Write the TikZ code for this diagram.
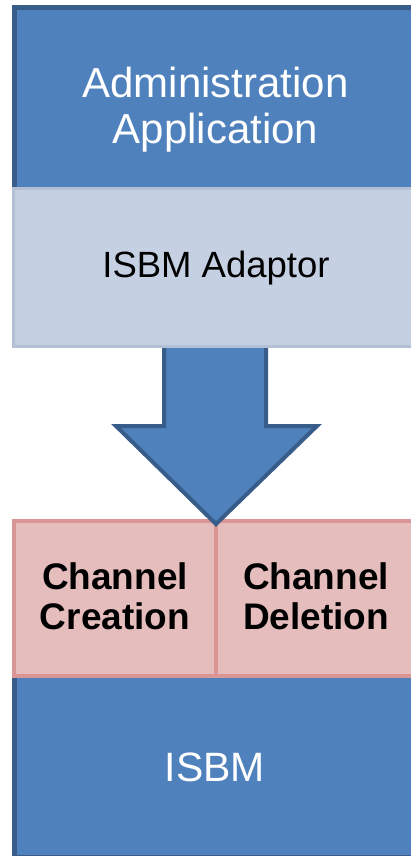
\documentclass[tikz,border=0pt]{standalone}
\usepackage{fontspec}
\setmainfont{Liberation Sans}
\definecolor{layerblue}{HTML}{4F81BD}
\definecolor{layerblueedge}{HTML}{385D8A}
\definecolor{adaptorfill}{HTML}{C5D0E3}
\definecolor{adaptoredge}{HTML}{B2BFD4}
\definecolor{opfill}{HTML}{E6BDBD}
\definecolor{opedge}{HTML}{D99694}
\tikzset{
  bluelayer/.style={fill=layerblue, draw=layerblueedge, line width=5pt},
  adaptorlayer/.style={fill=adaptorfill, draw=adaptoredge, line width=2.5pt},
  oplayer/.style={fill=opfill, draw=opedge, line width=4pt},
  flowarrow/.style={fill=layerblue, draw=layerblueedge, line width=4pt, line join=miter},
  whitelabel/.style={text=white, align=center, inner sep=0pt},
  darklabel/.style={text=black, align=center, inner sep=0pt},
}
\begin{document}
\begin{tikzpicture}[x=1pt, y=-1pt]
  \useasboundingbox (0,0) rectangle (411,856);
  \clip (0,0) rectangle (411,856);

  % application layer (runs off the right edge)
  \path[bluelayer] (14.5,8) rectangle (440,200);
  % ISBM layer at the bottom
  \path[bluelayer] (14.5,670) rectangle (440,857.5);
  % channel operations
  \path[oplayer] (14,521) rectangle (216,675.5);
  \path[oplayer] (216,521) rectangle (440,675.5);
  % downward block arrow from adaptor to operations
  \path[flowarrow] (164,335) -- (164,426) -- (116,426) -- (216,524)
        -- (317,426) -- (266,426) -- (266,335) -- cycle;
  % adaptor layer
  \path[adaptorlayer] (13.25,188.5) rectangle (440,346.5);

  % labels
  \node[whitelabel, font=\fontsize{42}{46}\selectfont] (app) at (215.5,109.5)
    {Administration\\Application};
  \node[darklabel, font=\fontsize{36.5}{40}\selectfont] (adaptor) at (216,268.5)
    {ISBM Adaptor};
  \node[darklabel, font=\fontsize{37}{40}\selectfont\bfseries] (create) at (115,596.5)
    {Channel\\Creation};
  \node[darklabel, font=\fontsize{37}{40}\selectfont\bfseries] (delete) at (316,596.5)
    {Channel\\Deletion};
  \node[whitelabel, font=\fontsize{41}{44}\selectfont] (isbm) at (215,767)
    {ISBM};
\end{tikzpicture}
\end{document}
